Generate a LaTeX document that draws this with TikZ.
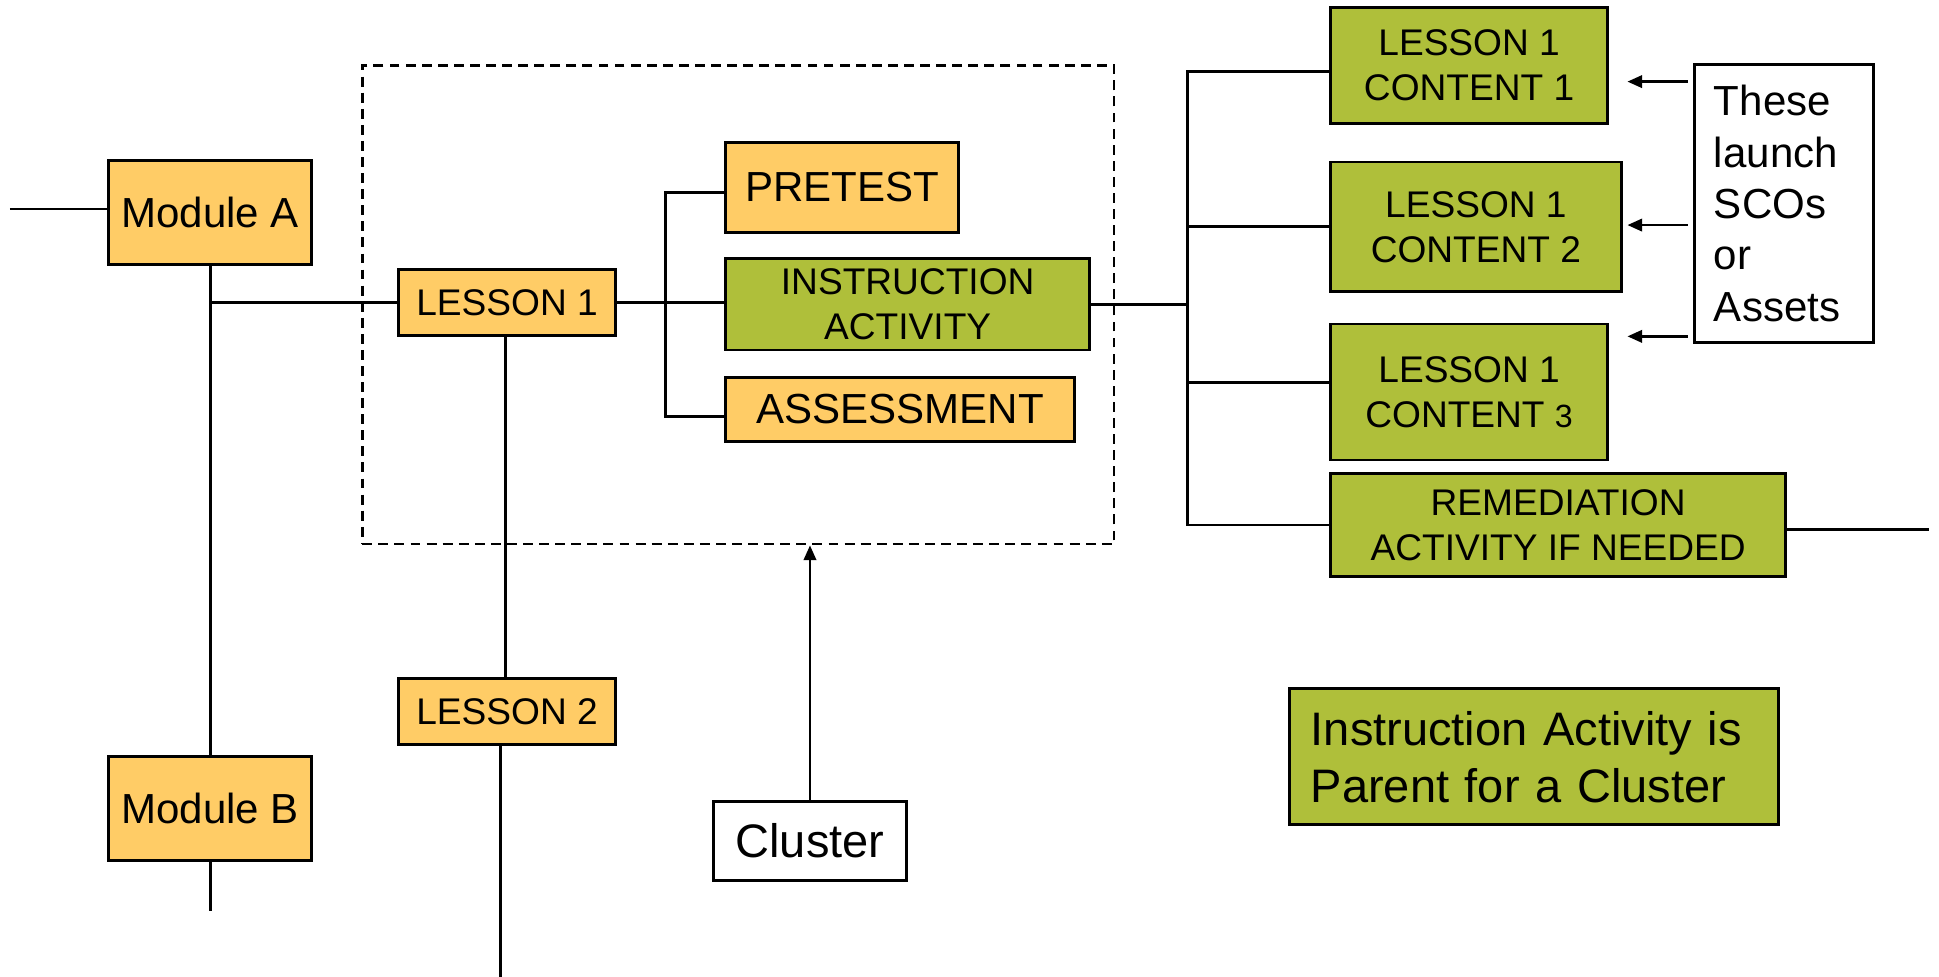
\documentclass[tikz,border=0pt]{standalone}
\usepackage{fontspec}
\setmainfont{Liberation Sans}
\usetikzlibrary{arrows.meta}
\definecolor{boxorange}{RGB}{255,204,102}
\definecolor{boxgreen}{RGB}{175,191,58}

\begin{document}
\begin{tikzpicture}[x=1pt,y=-1pt,
  conn/.style={line width=2.3pt, black},
  tip/.style={conn, -{Triangle[length=12pt,width=10pt]}},
  box/.style={draw=black, line width=2.3pt, inner sep=0pt, align=center},
  orangebox/.style={box, fill=boxorange},
  greenbox/.style={box, fill=boxgreen},
  whitebox/.style={box, fill=white},
  fbig/.style={font=\fontsize{34}{41.5}\selectfont},
  fmid/.style={font=\fontsize{30}{36.5}\selectfont},
  fhuge/.style={font=\fontsize{38}{46}\selectfont}
]
\useasboundingbox (0,0) rectangle (1568,790);

% dashed frame around the lesson structure
\node[draw, dashed, dash pattern=on 8pt off 5pt, line width=2pt, minimum width=608pt, minimum height=387pt, inner sep=0pt] (frame) at (597,246.5) {};

% modules and lessons
\node[orangebox, fbig, minimum width=164pt, minimum height=84pt] (modA) at (170,172) {Module A};
\node[orangebox, fbig, minimum width=164pt, minimum height=84pt] (modB) at (170,654) {Module B};
\node[orangebox, fmid, minimum width=176pt, minimum height=53pt] (les1) at (410,244.5) {LESSON 1};
\node[orangebox, fmid, minimum width=176pt, minimum height=53pt] (les2) at (410,575.5) {LESSON 2};

% lesson 1 activities
\node[orangebox, fbig, minimum width=188pt, minimum height=73pt] (pre) at (681,151.5) {PRETEST};
\node[greenbox, fmid, minimum width=294pt, minimum height=74pt] (instr) at (734,246) {INSTRUCTION\\ACTIVITY};
\node[orangebox, fbig, minimum width=282pt, minimum height=52pt] (assess) at (728,331) {ASSESSMENT};

% contents of the instruction activity
\node[greenbox, fmid, minimum width=224pt, minimum height=94pt] (c1) at (1188,53) {LESSON 1\\CONTENT 1};
\node[greenbox, fmid, minimum width=235pt, minimum height=105pt] (c2) at (1193.5,183.5) {LESSON 1\\CONTENT 2};
\node[greenbox, fmid, minimum width=224pt, minimum height=110pt] (c3) at (1188,317) {LESSON 1\\CONTENT {\fontsize{26}{36.5}\selectfont 3}};
\node[greenbox, fmid, minimum width=368pt, minimum height=83pt] (rem) at (1260,424.5) {REMEDIATION\\ACTIVITY IF NEEDED};

% notes
\node[whitebox, fbig, align=left, text width=113pt, minimum height=225pt, inner xsep=16pt] (note) at (1442.5,164.5) {These\\launch\\SCOs\\or\\Assets};
\node[whitebox, fhuge, minimum width=156pt, minimum height=64pt] (cluster) at (655,680) {Cluster};
\node[greenbox, fhuge, align=left, text width=361pt, minimum height=110pt, inner xsep=17pt] (parent) at (1240.5,612) {Instruction Activity is\\Parent for a Cluster};

% free line ends
\coordinate (inA) at (8,169);
\coordinate (outB) at (170,737);
\coordinate (outL2) at (405,790);
\coordinate (spine) at (960,246);
\coordinate (fork) at (538,246);
\coordinate (outRem) at (1560,428);

% module / lesson connectors
\draw[conn] (inA) -- (inA -| modA.west);
\draw[conn] (modA.south) -- (modB.north);
\draw[conn] (modB.south) -- (outB);
\draw[conn] (modA.south |- les1.west) -- (les1.west);
\draw[conn] ([xshift=-1pt]les1.south) -- ([xshift=-1pt]les2.north);
\draw[conn] (outL2 |- les2.south) -- (outL2);

% lesson 1 to its activities
\draw[conn] (les1.east) -- (les1.east -| instr.west);
\draw[conn] ([yshift=-4.5pt]pre.west) -| (fork) |- ([yshift=-6pt]assess.west);

% instruction activity to its contents
\draw[conn] (instr.east) -- (spine);
\draw[conn] ([yshift=-5pt]c1.west) -| (spine) |- (rem.west);
\draw[conn] (c2.west) -- (c2.west -| spine);
\draw[conn] ([yshift=8pt]c3.west) -- ([yshift=8pt]c3.west -| spine);
\draw[conn] (outRem -| rem.east) -- (outRem);

% note arrows
\draw[tip] ([xshift=-4pt]note.west |- 0,66) -- (1316,66);
\draw[tip] ([xshift=-4pt]note.west |- 0,182) -- (1316,182);
\draw[tip] ([xshift=-4pt]note.west |- 0,272) -- (1316,272);
\draw[tip] (cluster.north) -- (cluster.north |- frame.south);
\end{tikzpicture}
\end{document}
